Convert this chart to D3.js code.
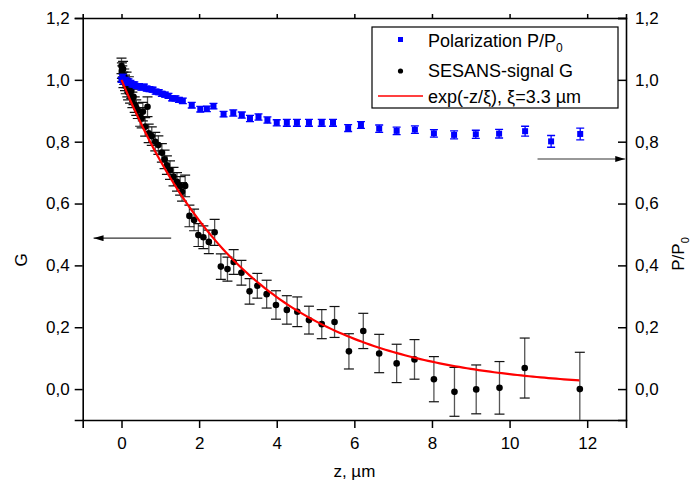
<!DOCTYPE html>
<html>
<head>
  <meta charset="utf-8">
  <script src="https://cdn.jsdelivr.net/npm/d3@7"></script>
  <style>
    body { margin: 0; background: #fff; }
    text { font-family: "Liberation Sans", Arial, sans-serif; fill: #000; }
  </style>
</head>
<body>
<script>
// SESANS-signal G (black points), with error bars
var gZ   = [0.00,0.01,0.02,0.04,0.05,0.07,0.09,0.11,0.13,0.15,0.17,0.19,0.22,0.25,0.28,0.31,0.34,0.38,0.42,0.48,
            0.52,0.55,0.61,0.67,0.70,0.78,0.87,0.95,1.04,1.11,1.17,1.25,1.34,1.43,1.51,1.56,1.64,1.75,1.87,1.98,
            2.11,2.25,2.40,2.56,2.73,2.89,3.09,3.30,3.50,3.74,3.98,4.26,4.53,4.83,5.16,5.49,5.86,6.23,6.64,7.09,
            7.55,8.05,8.58,9.14,9.74,10.39,11.81];
var gVal = [1.045,1.03,1.02,1.035,1.00,1.01,0.99,0.98,1.00,0.97,0.96,0.985,0.95,0.965,0.935,0.945,0.92,0.91,0.90,0.88,
            0.875,0.897,0.848,0.913,0.827,0.818,0.80,0.789,0.764,0.743,0.724,0.708,0.687,0.670,0.657,0.638,0.657,0.56,0.547,0.498,
            0.491,0.476,0.507,0.396,0.388,0.411,0.376,0.316,0.334,0.307,0.272,0.256,0.250,0.223,0.210,0.217,0.122,0.188,0.115,0.083,
            0.096,0.032,-0.009,-0.001,0.004,0.068,0.0];
var gErr = [0.025,0.025,0.025,0.025,0.025,0.025,0.025,0.025,0.025,0.025,0.025,0.025,0.025,0.025,0.025,0.025,0.025,0.025,0.025,0.03,
            0.03,0.03,0.03,0.032,0.03,0.03,0.03,0.03,0.03,0.03,0.03,0.03,0.03,0.03,0.03,0.03,0.035,0.035,0.035,0.037,
            0.037,0.038,0.042,0.041,0.039,0.04,0.04,0.041,0.04,0.045,0.046,0.046,0.048,0.045,0.047,0.05,0.057,0.057,0.062,0.062,
            0.064,0.073,0.079,0.079,0.085,0.097,0.119];

// Polarization P/P0 (blue squares)
var pZ   = [0.00,0.03,0.06,0.10,0.14,0.18,0.23,0.28,0.33,0.39,0.45,0.51,0.58,0.65,0.72,0.80,0.88,0.96,1.04,1.12,
            1.21,1.30,1.39,1.48,1.58,1.81,2.03,2.20,2.37,2.63,2.88,3.10,3.31,3.53,3.76,4.00,4.26,4.52,4.83,5.16,
            5.45,5.84,6.17,6.64,7.09,7.56,8.05,8.57,9.13,9.73,10.40,11.07,11.82];
var pVal = [1.00,1.01,0.995,1.00,0.99,0.995,0.99,0.985,0.985,0.98,0.98,0.975,0.978,0.972,0.97,0.968,0.962,0.96,0.955,0.952,
            0.948,0.94,0.94,0.935,0.932,0.918,0.905,0.906,0.915,0.889,0.893,0.886,0.875,0.880,0.870,0.861,0.861,0.861,0.861,0.861,
            0.861,0.844,0.854,0.842,0.835,0.839,0.827,0.822,0.824,0.826,0.834,0.801,0.825];
var pErr = [0.008,0.008,0.008,0.008,0.008,0.008,0.008,0.008,0.008,0.008,0.008,0.008,0.008,0.008,0.008,0.008,0.008,0.008,0.008,0.008,
            0.008,0.008,0.008,0.008,0.009,0.009,0.009,0.009,0.009,0.009,0.01,0.01,0.01,0.01,0.01,0.01,0.011,0.011,0.011,0.011,
            0.011,0.011,0.011,0.012,0.012,0.012,0.012,0.013,0.013,0.014,0.016,0.019,0.019];

// fit curve exp(-z/xi), xi = 3.3
var fitXi = 3.3;
var fitZ = d3.range(0, 11.801, 0.1);

var xTicks = [0, 2, 4, 6, 8, 10, 12];
var yTicks = [0.0, 0.2, 0.4, 0.6, 0.8, 1.0, 1.2];

(function() {
  var W = 692, H = 489;
  var mL = 82.7, mR = 626, mT = 18, mB = 420;

  var svg = d3.select("body").append("svg")
      .attr("width", W).attr("height", H);

  var x = d3.scaleLinear().domain([-1, 13]).range([mL, mR]);
  var y = d3.scaleLinear().domain([-0.1, 1.2]).range([mB, mT]);
  var fmt = function(d) { return d3.format(".1f")(d).replace(".", ","); };

  svg.append("clipPath").attr("id", "plotclip")
    .append("rect").attr("x", mL).attr("y", mT)
    .attr("width", mR - mL).attr("height", mB - mT);

  // axes
  var axB = svg.append("g").attr("transform", "translate(0," + mB + ")")
      .call(d3.axisBottom(x).tickValues(xTicks).tickSize(8).tickPadding(6).tickFormat(d3.format("d")));
  var axT = svg.append("g").attr("transform", "translate(0," + mT + ")")
      .call(d3.axisTop(x).tickValues(xTicks).tickSize(4).tickFormat(""));
  var axL = svg.append("g").attr("transform", "translate(" + mL + ",0)")
      .call(d3.axisLeft(y).tickValues(yTicks).tickSize(8).tickPadding(5).tickFormat(fmt));
  var axR = svg.append("g").attr("transform", "translate(" + mR + ",0)")
      .call(d3.axisRight(y).tickValues(yTicks).tickSize(-8).tickPadding(9).tickFormat(fmt));

  [axB, axT, axL, axR].forEach(function(a) {
    a.attr("font-size", 17).attr("font-family", "Liberation Sans, Arial, sans-serif");
    a.select(".domain").attr("stroke", "#000").attr("stroke-width", 1.6);
    a.selectAll(".tick line").attr("stroke", "#000").attr("stroke-width", 1.5);
    a.selectAll("text").attr("fill", "#000");
  });
  axR.selectAll("text").attr("x", 9);
  axB.selectAll("text").attr("dy", "0.9em");

  // axis titles
  svg.append("text").attr("x", (mL + mR) / 2).attr("y", 477)
    .attr("text-anchor", "middle").style("font-size", "17px").text("z, \u00b5m");
  svg.append("text").attr("transform", "translate(27,260) rotate(-90)")
    .attr("text-anchor", "middle").style("font-size", "17px").text("G");
  var rt = svg.append("text").attr("transform", "translate(684,254) rotate(-90)")
    .attr("text-anchor", "middle").style("font-size", "17px");
  rt.append("tspan").text("P/P");
  rt.append("tspan").attr("dy", 5).style("font-size", "11px").text("0");

  var plot = svg.append("g").attr("clip-path", "url(#plotclip)");

  // black points with error bars
  var gData = gZ.map(function(z, i) { return { z: z, v: gVal[i], e: gErr[i] }; });
  var gG = plot.append("g");
  gG.selectAll("line.stem").data(gData).enter().append("line")
    .attr("x1", function(d) { return x(d.z); }).attr("x2", function(d) { return x(d.z); })
    .attr("y1", function(d) { return y(d.v - d.e); }).attr("y2", function(d) { return y(d.v + d.e); })
    .attr("stroke", "#555").attr("stroke-width", 1.3);
  [-1, 1].forEach(function(s) {
    gG.selectAll("line.cap" + s).data(gData).enter().append("line")
      .attr("x1", function(d) { return x(d.z) - 5; }).attr("x2", function(d) { return x(d.z) + 5; })
      .attr("y1", function(d) { return y(d.v + s * d.e); }).attr("y2", function(d) { return y(d.v + s * d.e); })
      .attr("stroke", "#111").attr("stroke-width", 1.2);
  });
  gG.selectAll("circle").data(gData).enter().append("circle")
    .attr("cx", function(d) { return x(d.z); }).attr("cy", function(d) { return y(d.v); })
    .attr("r", 3.3).attr("fill", "#000");

  // blue points with error bars
  var pData = pZ.map(function(z, i) { return { z: z, v: pVal[i], e: pErr[i] }; });
  var pG = plot.append("g");
  pG.selectAll("line.stem").data(pData).enter().append("line")
    .attr("x1", function(d) { return x(d.z); }).attr("x2", function(d) { return x(d.z); })
    .attr("y1", function(d) { return y(d.v - d.e); }).attr("y2", function(d) { return y(d.v + d.e); })
    .attr("stroke", "#0000ff").attr("stroke-width", 1.3);
  [-1, 1].forEach(function(s) {
    pG.selectAll("line.cap" + s).data(pData).enter().append("line")
      .attr("x1", function(d) { return x(d.z) - 4; }).attr("x2", function(d) { return x(d.z) + 4; })
      .attr("y1", function(d) { return y(d.v + s * d.e); }).attr("y2", function(d) { return y(d.v + s * d.e); })
      .attr("stroke", "#0000ff").attr("stroke-width", 1.3);
  });
  pG.selectAll("rect").data(pData).enter().append("rect")
    .attr("x", function(d) { return x(d.z) - 3; }).attr("y", function(d) { return y(d.v) - 3; })
    .attr("width", 6).attr("height", 6).attr("fill", "#0000ff");

  // fit line
  plot.append("path")
    .datum(fitZ)
    .attr("d", d3.line().x(function(z) { return x(z); }).y(function(z) { return y(Math.exp(-z / fitXi)); }))
    .attr("fill", "none").attr("stroke", "#ff0000").attr("stroke-width", 2.2);

  // arrows pointing to the axes
  svg.append("defs").append("marker").attr("id", "head")
    .attr("viewBox", "0 0 10 6").attr("refX", 10).attr("refY", 3)
    .attr("markerWidth", 10).attr("markerHeight", 6).attr("markerUnits", "userSpaceOnUse")
    .attr("orient", "auto")
    .append("path").attr("d", "M0,0L10,3L0,6Z").attr("fill", "#000");
  svg.append("line")
    .attr("x1", x(1.28)).attr("x2", x(-0.72)).attr("y1", y(0.488)).attr("y2", y(0.488))
    .attr("stroke", "#333").attr("stroke-width", 1.2).attr("marker-end", "url(#head)");
  svg.append("line")
    .attr("x1", x(10.72)).attr("x2", x(12.98)).attr("y1", y(0.744)).attr("y2", y(0.744))
    .attr("stroke", "#333").attr("stroke-width", 1.2).attr("marker-end", "url(#head)");

  // legend
  var lg = svg.append("g");
  lg.append("rect").attr("x", 372).attr("y", 27).attr("width", 246).attr("height", 81)
    .attr("fill", "#fff").attr("stroke", "#000").attr("stroke-width", 1.2);
  lg.append("rect").attr("x", 398).attr("y", 37).attr("width", 5).attr("height", 5).attr("fill", "#0000ff");
  lg.append("circle").attr("cx", 400.5).attr("cy", 71).attr("r", 2.6).attr("fill", "#000");
  lg.append("line").attr("x1", 378).attr("x2", 423).attr("y1", 96).attr("y2", 96)
    .attr("stroke", "#ff0000").attr("stroke-width", 1.5);
  var t1 = lg.append("text").attr("x", 428).attr("y", 47).style("font-size", "18px");
  t1.append("tspan").text("Polarization P/P");
  t1.append("tspan").attr("dy", 5).style("font-size", "12px").text("0");
  lg.append("text").attr("x", 428).attr("y", 77).style("font-size", "18px").text("SESANS-signal G");
  lg.append("text").attr("x", 428).attr("y", 103).style("font-size", "18px")
    .text("exp(-z/\u03be), \u03be=3.3 \u00b5m");
})();
</script>
</body>
</html>
